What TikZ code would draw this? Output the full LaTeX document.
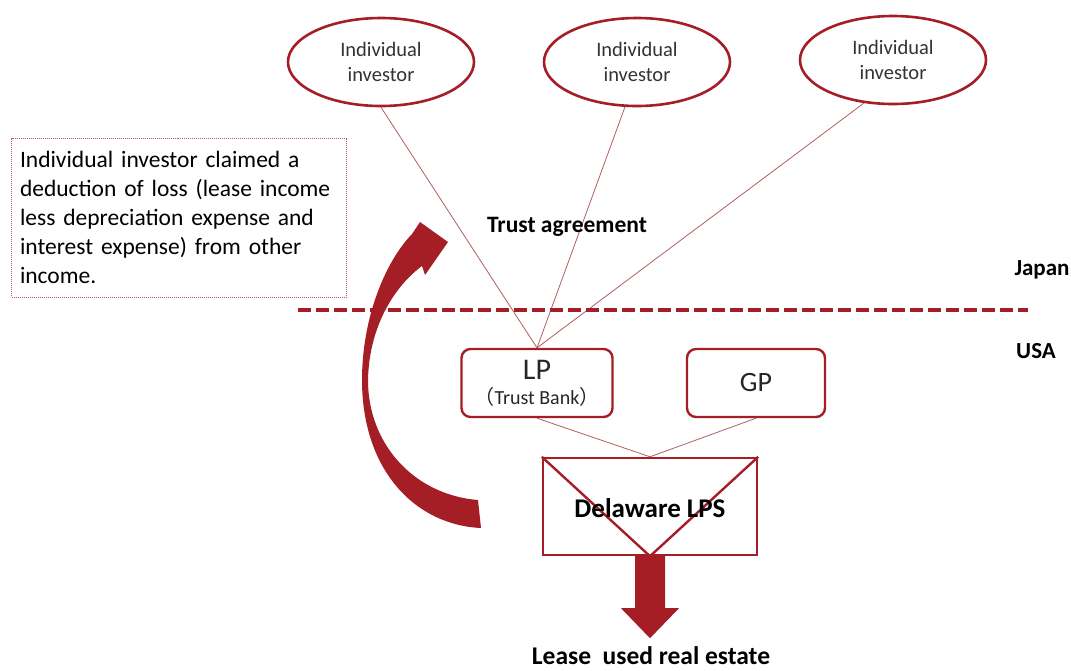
\documentclass[tikz,border=0pt]{standalone}
\usepackage{fontspec}
\setmainfont{Carlito}
\newfontfamily\cjk{Noto Sans CJK JP}
\usetikzlibrary{shapes.geometric,positioning}
\definecolor{wine}{RGB}{165,30,38}
\definecolor{thinred}{RGB}{175,95,95}

\begin{document}
\begin{tikzpicture}[x=1pt, y=-1pt]
\tikzset{
  investor/.style = {ellipse, draw=wine, line width=2.6pt, minimum width=186pt, minimum height=88pt, align=center, text=black!80, font=\fontsize{20.5}{25}\selectfont},
  partner/.style  = {rectangle, rounded corners=9pt, draw=wine, line width=2.4pt, minimum height=68pt, align=center, text=black!85},
  link/.style     = {draw=thinred, line width=0.8pt},
  bold/.style     = {font=\bfseries\fontsize{23}{26}\selectfont}
}
\useasboundingbox (0,0) rectangle (1071,670);

% Investors in Japan
\node[investor] (inv1) at (381,62) {Individual\\investor};
\node[investor] (inv2) at (637,62) {Individual\\investor};
\node[investor] (inv3) at (893,60) {Individual\\investor};

% Partners in the USA
\node[partner, minimum width=151pt, inner sep=0pt] (lp) at (537,383)
  {\fontsize{30}{30}\selectfont LP\\[7pt]\fontsize{20}{20}\selectfont{\cjk （}Trust Bank{\cjk ）}};
\node[partner, minimum width=138pt, font=\fontsize{28}{30}\selectfont] (gp) at (756,383) {GP};
\node[rectangle, draw=wine, line width=2.4pt, minimum width=214pt, minimum height=97pt] (lps) at (650,506.5) {};
\draw[wine, line width=2.4pt] (lps.north west) -- (lps.south) -- (lps.north east);
\node[font=\bfseries\fontsize{27}{30}\selectfont] (lpsname) at (650,508) {Delaware LPS};

% Edges
\draw[link] (inv1.south) -- (lp.north);
\draw[link] (inv2.255)   -- (lp.north);
\draw[link] (inv3.236)   -- (lp.north);
\draw[link] (lp.south)   -- (lps.north);
\draw[link] (gp.south)   -- (lps.north);

% Labels
\node[bold, font=\bfseries\fontsize{23.5}{26}\selectfont] (trust) at (567,227) {Trust agreement};
\node[bold] (japan) at (1042,270) {Japan};
\node[bold] (usa) at (1036,351) {USA};
\node[bold, font=\bfseries\fontsize{25.5}{28}\selectfont, inner sep=1pt] (lease) at (651,656) {Lease\ \ used real estate};

% Border between countries
\draw[wine, line width=3.8pt, dash pattern=on 13pt off 5pt] (298,310) -- (1028,310);

% Down arrow to the real estate
\fill[wine] (lps.south) ++(-15,0) -- ++(0,52) -- ++(-14,0) -- ++(29,30) -- ++(29,-30) -- ++(-14,0) -- ++(0,-52) -- cycle;

% Note box
\node[draw=thinred, line width=0.6pt, dash pattern=on 1pt off 1pt, minimum width=335pt, minimum height=159pt,
      text width=318pt, align=left, font=\fontsize{23.5}{28.8}\selectfont] (note) at (179,217.5)
  {Individual investor claimed a\\deduction of loss (lease income\\less depreciation expense and\\interest expense) from other\\income.};

% Curved arrow back to the investors
\fill[wine] (481,528) .. controls (415,525) and (362,470) .. (362,380)
  .. controls (362,318) and (385,262) .. (412,234) -- (420,222) -- (448,242) -- (425,275) -- (422,266)
  .. controls (396,285) and (369,325) .. (368,380)
  .. controls (368,445) and (415,495) .. (478,500) -- cycle;

\end{tikzpicture}
\end{document}
